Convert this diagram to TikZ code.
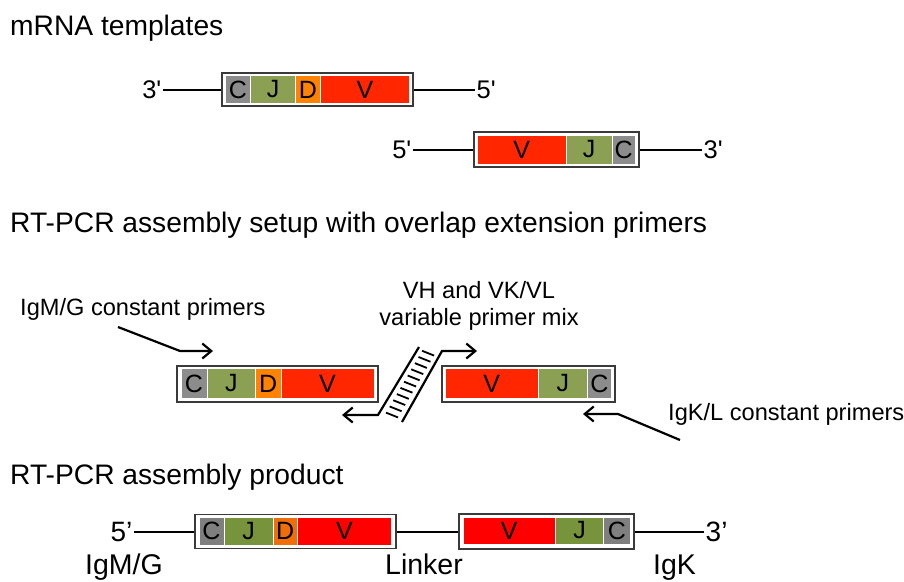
\documentclass[tikz,border=0pt]{standalone}
\usepackage{fontspec}
\setmainfont{Liberation Sans}
% same face without TeX ligatures, so that ' stays a straight prime
\newfontfamily\rawsans{Liberation Sans}
\usetikzlibrary{arrows.meta,calc}
% segment colours, upper diagrams
\definecolor{cgray}{HTML}{8C8C8C}
\definecolor{jgreen}{HTML}{8BA052}
\definecolor{dorange}{HTML}{FF8200}
\definecolor{vred}{HTML}{FF2600}
% segment colours, assembled product
\definecolor{cgrayB}{HTML}{7F7F7F}
\definecolor{jgreenB}{HTML}{77933C}
\definecolor{dorangeB}{HTML}{F06E0A}
\definecolor{vredB}{HTML}{FF0000}
\definecolor{boxedge}{HTML}{3A3A3A}
\begin{document}
\begin{tikzpicture}[x=1pt,y=-1pt,
  title/.style={font=\fontsize{28.2}{30}\selectfont, anchor=base west, inner sep=0pt},
  plabel/.style={font=\fontsize{23.6}{27}\selectfont, inner sep=0pt},
  endlab/.style={font=\rawsans\fontsize{25.5}{27}\selectfont, inner sep=1.5pt},
  endlabB/.style={font=\fontsize{28}{30}\selectfont, inner sep=1.5pt},
  biglab/.style={font=\fontsize{28.5}{32}\selectfont, anchor=base west, inner sep=0pt},
  outerbox/.style={draw=boxedge, line width=1.6pt, fill=white, inner sep=0pt},
  seg/.style={draw=white, line width=1pt, inner sep=0pt, font=\fontsize{25}{27}\selectfont},
  strand/.style={line width=2pt, draw=black},
  primer/.style={line width=2.2pt, draw=black, -{Straight Barb[length=9pt,width=15pt]}},
  rung/.style={line width=1.8pt, draw=black}
]
\useasboundingbox[fill=white] (0,0) rectangle (904,581);

% ---------- section titles ----------
\node[title] (t1) at (10,35) {mRNA templates};
\node[title] (t2) at (10,232) {RT-PCR assembly setup with overlap extension primers};
\node[title] (t3) at (10,484) {RT-PCR assembly product};

% ---------- heavy-chain template ----------
\node[outerbox, minimum width=191pt, minimum height=33pt] (h1) at (317.5,89.5) {};
\node[seg, fill=cgray,   minimum width=25pt, minimum height=28pt] (h1c) at (238,89.5) {C};
\node[seg, fill=jgreen,  minimum width=45pt, minimum height=28pt] (h1j) at (273,89.5) {J};
\node[seg, fill=dorange, minimum width=25pt, minimum height=28pt] (h1d) at (308,89.5) {D};
\node[seg, fill=vred,    minimum width=89pt, minimum height=28pt] (h1v) at (365,89.5) {V};
\node[endlab, anchor=east] (h1l) at (163,89.5) {3'};
\node[endlab, anchor=west] (h1r) at (475,89.5) {5'};
\draw[strand] (h1l.east) -- (h1.west);
\draw[strand] (h1.east) -- (h1r.west);

% ---------- light-chain template ----------
\node[outerbox, minimum width=165pt, minimum height=35pt] (k1) at (556.5,149.5) {};
\node[seg, fill=vred,   minimum width=88.5pt, minimum height=29pt] (k1v) at (521.75,149.5) {V};
\node[seg, fill=jgreen, minimum width=46pt,   minimum height=29pt] (k1j) at (589,149.5) {J};
\node[seg, fill=cgray,  minimum width=23.5pt, minimum height=29pt] (k1c) at (623.75,149.5) {C};
\node[endlab, anchor=east] (k1l) at (413,149.5) {5'};
\node[endlab, anchor=west] (k1r) at (702,149.5) {3'};
\draw[strand] (k1l.east) -- (k1.west);
\draw[strand] (k1.east) -- (k1r.west);

% ---------- assembly setup ----------
\node[outerbox, minimum width=201pt, minimum height=36pt] (h2) at (277.5,384) {};
\node[seg, fill=cgray,   minimum width=26pt,   minimum height=30pt] (h2c) at (194,383.5) {C};
\node[seg, fill=jgreen,  minimum width=48.5pt, minimum height=30pt] (h2j) at (231.25,383.5) {J};
\node[seg, fill=dorange, minimum width=25.5pt, minimum height=30pt] (h2d) at (268.25,383.5) {D};
\node[seg, fill=vred,    minimum width=93pt,   minimum height=30pt] (h2v) at (327.5,383.5) {V};

\node[outerbox, minimum width=173pt, minimum height=36pt] (k2) at (528.5,384) {};
\node[seg, fill=vred,   minimum width=92.5pt, minimum height=30pt] (k2v) at (491.75,383.5) {V};
\node[seg, fill=jgreen, minimum width=49.5pt, minimum height=30pt] (k2j) at (562.75,383.5) {J};
\node[seg, fill=cgray,  minimum width=24pt,   minimum height=30pt] (k2c) at (599.5,383.5) {C};

% primer labels
\node[plabel, anchor=base west] (pm) at (20,315) {IgM/G constant primers};
\node[plabel, anchor=base] (pv1) at (479,298) {VH and VK/VL};
\node[plabel, anchor=base] (pv2) at (479,325) {variable primer mix};
\node[plabel, anchor=base west] (pk) at (668,420) {IgK/L constant primers};

% heavy-chain constant primer
\coordinate (pmA) at (118,327);
\coordinate (pmB) at (180,351);
\coordinate (pmC) at (213,351);
\draw[primer] (pmA) -- (pmB) -- (pmC);

% light-chain constant primer
\coordinate (pkA) at (680,440);
\coordinate (pkB) at (618,414);
\coordinate (pkC) at (583,414);
\draw[primer] (pkA) -- (pkB) -- (pkC);

% variable primer pair with overlapping linker (ladder)
\coordinate (lrTop) at (419,347);
\coordinate (lrBot) at (378,415);
\coordinate (lrEnd) at (342,415);
\coordinate (rrBot) at (402,422);
\coordinate (rrTop) at (442,351);
\coordinate (rrEnd) at (477,351);
\draw[primer] (lrTop) -- (lrBot) -- (lrEnd);
\draw[primer] (rrBot) -- (rrTop) -- (rrEnd);
\coordinate (midTop) at ($(lrTop)!0.5!(rrTop)$);
\coordinate (midBot) at ($(lrBot)!0.5!(rrBot)$);
\foreach \i in {0,...,10}{
  \pgfmathsetmacro\tt{0.06+0.089*\i}
  \coordinate (m) at ($(midTop)!\tt!(midBot)$);
  \draw[rung] ($(m)+(-6,-2.4)$) -- ($(m)+(6,2.4)$);
}

% ---------- assembled product ----------
\node[outerbox, minimum width=201pt, minimum height=34pt] (h3) at (295.5,531.5) {};
\node[seg, fill=cgrayB,   minimum width=25pt,   minimum height=28pt] (h3c) at (211.5,531) {C};
\node[seg, fill=jgreenB,  minimum width=49pt,   minimum height=28pt] (h3j) at (248.5,531) {J};
\node[seg, fill=dorangeB, minimum width=24.5pt, minimum height=28pt] (h3d) at (285.25,531) {D};
\node[seg, fill=vredB,    minimum width=94pt,   minimum height=28pt] (h3v) at (344.5,531) {V};

\node[outerbox, minimum width=175pt, minimum height=35pt] (k3) at (546.5,531.5) {};
\node[seg, fill=vredB,   minimum width=92.5pt, minimum height=27pt] (k3v) at (509.25,530.5) {V};
\node[seg, fill=jgreenB, minimum width=48pt,   minimum height=27pt] (k3j) at (579.5,530.5) {J};
\node[seg, fill=cgrayB,  minimum width=27pt,   minimum height=27pt] (k3c) at (617,530.5) {C};

\node[endlabB, anchor=east] (p5) at (134,531.5) {5’};
\node[endlabB, anchor=west] (p3) at (704,531.5) {3’};
\draw[strand] (p5.east) -- (h3.west);
\draw[strand] (h3.east) -- (k3.west);
\draw[strand] (k3.east) -- (p3.west);

\node[biglab] (lh) at (85,574) {IgM/G};
\node[biglab] (ll) at (385,574) {Linker};
\node[biglab] (lk) at (653,574) {IgK};
\end{tikzpicture}
\end{document}
